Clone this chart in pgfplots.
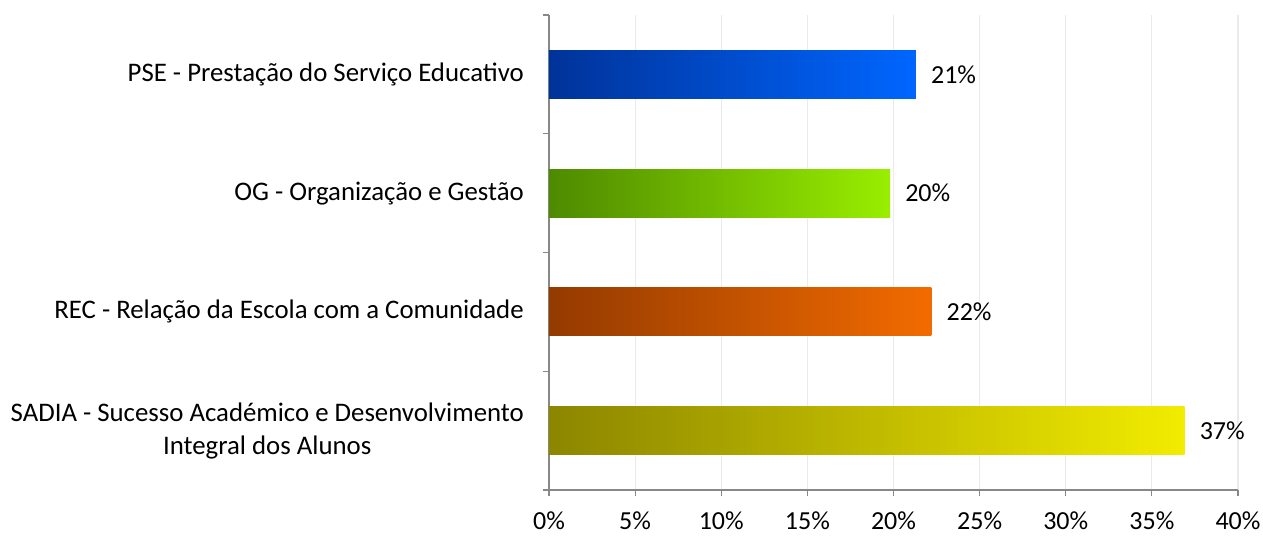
\documentclass[border=0pt]{standalone}
\usepackage{pgfplots}
\pgfplotsset{compat=1.18}
\usepackage{fontspec}
\setmainfont{Carlito}
\definecolor{pseL}{HTML}{003399}
\definecolor{pseR}{HTML}{0066FF}
\definecolor{ogL}{HTML}{4E8A00}
\definecolor{ogR}{HTML}{99EE00}
\definecolor{recL}{HTML}{943A00}
\definecolor{recR}{HTML}{F26B00}
\definecolor{sadL}{HTML}{8C8600}
\definecolor{sadR}{HTML}{F2EC00}
\definecolor{axgray}{HTML}{888888}
\definecolor{gridgray}{HTML}{EBEBEB}
\pgfplotsset{/pgf/number format/assume math mode=true}
\begin{document}
\fontsize{26}{33}\selectfont
\begin{tikzpicture}
\begin{axis}[
    scale only axis, width=689pt, height=475pt,
    xmin=0, xmax=40, ymin=-0.5, ymax=3.5,
    axis lines*=left,
    axis line style={draw=axgray, line width=1.2pt},
    tick align=outside, major tick length=6pt,
    tick style={draw=axgray, line width=1.2pt},
    xtick={0,5,...,40},
    xticklabel={\pgfmathprintnumber{\tick}\%},
    xticklabel style={inner sep=0pt, yshift=-16pt},
    xmajorgrids, grid style={draw=gridgray, line width=1.2pt},
    ytick={-0.5,0.5,1.5,2.5,3.5}, yticklabels={},
    extra y ticks={0,1,2,3},
    extra y tick labels={{SADIA - Sucesso Académico e Desenvolvimento\\Integral dos Alunos},
        REC - Relação da Escola com a Comunidade,
        OG - Organização e Gestão,
        PSE - Prestação do Serviço Educativo},
    extra y tick style={major tick length=0pt, tick style={draw=none},
        yticklabel style={align=center, anchor=east, inner sep=0pt, xshift=-25pt,
        font=\fontsize{26.8}{33}\selectfont}},
    xbar, bar width=48pt, bar shift=0pt,
    nodes near coords={\pgfmathprintnumber[fixed,precision=0]{\pgfplotspointmeta}\%},
    nodes near coords align={horizontal},
    every node near coord/.append style={text=black, anchor=west, inner sep=0pt, xshift=15pt},
]
% SADIA
\addplot[draw=none, left color=sadL, right color=sadR] coordinates {(36.9,0)};
% REC
\addplot[draw=none, left color=recL, right color=recR] coordinates {(22.2,1)};
% OG
\addplot[draw=none, left color=ogL, right color=ogR] coordinates {(19.8,2)};
% PSE
\addplot[draw=none, left color=pseL, right color=pseR] coordinates {(21.3,3)};
\end{axis}
\pgfresetboundingbox
\path ([xshift=-549pt,yshift=15pt]current axis.north west) rectangle ([xshift=25pt,yshift=-46pt]current axis.south east);
\end{tikzpicture}
\end{document}
